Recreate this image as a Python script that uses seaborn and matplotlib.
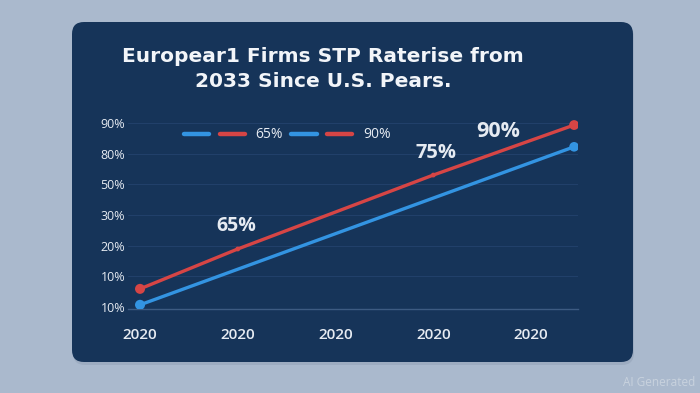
import numpy as np
import pandas as pd
import matplotlib
matplotlib.use("Agg")
import matplotlib.pyplot as plt
import seaborn as sns
from matplotlib.patches import FancyBboxPatch
from matplotlib.lines import Line2D
from matplotlib.legend_handler import HandlerTuple

# ---- data ----
title_text = "Europear1 Firms STP Raterise from\n2033 Since U.S. Pears."
x_tick_labels = ["2020", "2020", "2020", "2020", "2020"]
y_tick_labels = ["10%", "10%", "20%", "30%", "50%", "80%", "90%"]
red_x = [0, 1, 3, 4.44]
red_y = [0.59, 1.89, 4.30, 5.93]
red_marker_area = [52, 12, 12, 50]
blue_x = [0, 4.44]
blue_y = [0.07, 5.22]
blue_marker_area = [52, 48]
legend_labels = ["65%", "90%"]
ann_labels = ["65%", "75%", "90%"]
ann_x = [0.99, 3.03, 3.66]
ann_y = [2.64, 5.02, 5.71]
ann_size = [14, 14.5, 15.5]

# ---- style ----
BG = "#aab9cd"
CARD = "#163459"
GRID = "#21406a"
RED = "#d64545"
BLUE = "#3394e2"
TXT = "#e6ebf2"

sns.set_theme(style="white")
plt.rcParams["font.family"] = ["Open Sans", "DejaVu Sans"]

fig = plt.figure(figsize=(7, 3.93), dpi=100)
fig.patch.set_facecolor(BG)

# card with soft shadow (pixel coordinates)
shadow = FancyBboxPatch((73, 28), 561, 340, boxstyle="round,pad=0,rounding_size=12",
                        transform=None, facecolor="#8796ac", edgecolor="none", alpha=0.35, zorder=0)
card = FancyBboxPatch((72, 31), 561, 340, boxstyle="round,pad=0,rounding_size=12",
                      transform=None, facecolor=CARD, edgecolor="none", zorder=1)
fig.add_artist(shadow)
fig.add_artist(card)

ax = fig.add_axes([128 / 700, 84.5 / 393, 450 / 700, 198.5 / 393])
ax.set_facecolor("none")
ax.set_zorder(2)

df = pd.DataFrame({
    "x": red_x + blue_x,
    "y": red_y + blue_y,
    "series": ["red"] * len(red_x) + ["blue"] * len(blue_x),
})
sns.lineplot(data=df, x="x", y="y", hue="series", palette={"red": RED, "blue": BLUE},
             linewidth=2.4, legend=False, ax=ax, sort=False, solid_capstyle="round")
ax.scatter(red_x, red_y, s=red_marker_area, color=RED, zorder=5, linewidths=0)
ax.scatter(blue_x, blue_y, s=blue_marker_area, color=BLUE, zorder=5, linewidths=0)

ax.set_xlim(-0.123, 4.48)
ax.set_ylim(-0.05, 6.42)
ax.set_xticks(range(len(x_tick_labels)))
ax.set_xticklabels(x_tick_labels, color=TXT, fontsize=11, fontweight="semibold")
ax.set_yticks(range(len(y_tick_labels)))
ax.set_yticklabels(y_tick_labels, color=TXT, fontsize=9)
ax.set_xlabel("")
ax.set_ylabel("")
for s in ["top", "right", "left"]:
    ax.spines[s].set_visible(False)
ax.spines["bottom"].set_color("#3d5b82")
ax.spines["bottom"].set_linewidth(1)
ax.tick_params(axis="x", length=6, color="#3d5b82", width=1, direction="out", pad=8)
ax.tick_params(axis="y", length=0, pad=2)
for yv in range(1, len(y_tick_labels)):
    ax.axhline(yv, color=GRID, linewidth=0.8, zorder=0)

for lab, xx, yy, fs in zip(ann_labels, ann_x, ann_y, ann_size):
    ax.text(xx, yy, lab, color=TXT, fontsize=fs, fontweight="bold",
            ha="center", va="center")

# legend
def dash(c):
    return Line2D([], [], color=c, linewidth=3.2, solid_capstyle="round")
handles = [(dash(BLUE), dash(RED)), (dash(BLUE), dash(RED))]
leg = fig.legend(handles, legend_labels, ncol=2, frameon=False,
                 handler_map={tuple: HandlerTuple(ndivide=None, pad=0.75)},
                 loc="center left", bbox_to_anchor=(184 / 700, 1 - 135 / 393),
                 fontsize=10, handlelength=4.4, handletextpad=0.75,
                 columnspacing=0.6, borderpad=0, borderaxespad=0)
for t in leg.get_texts():
    t.set_color(TXT)
leg.set_zorder(3)

fig.text(323 / 700, 1 - 69 / 393, title_text, color="#f2f5f9", fontsize=14.5,
         fontweight="bold", ha="center", va="center", linespacing=1.45, zorder=3,
         family=["DejaVu Sans"])

fig.text(695 / 700, 1 - 383 / 393, "AI Generated", color="#c8d2de", fontsize=8.5,
         ha="right", va="center")

fig.savefig("out.png", dpi=100, facecolor=BG)
